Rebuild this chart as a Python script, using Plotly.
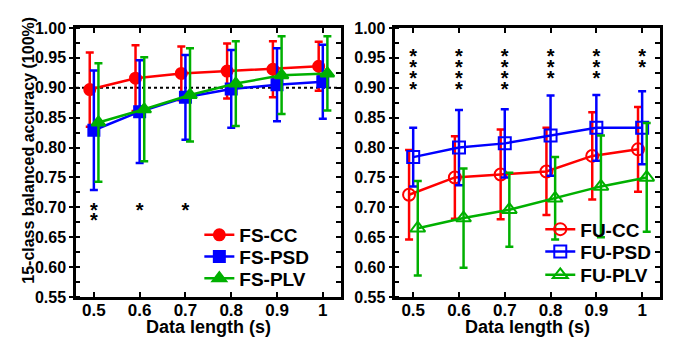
import plotly.graph_objects as go

# ---------------- data ----------------
lengths = [0.5, 0.6, 0.7, 0.8, 0.9, 1.0]
x_tick_labels = ["0.5", "0.6", "0.7", "0.8", "0.9", "1"]
y_tick_vals = [0.55, 0.60, 0.65, 0.70, 0.75, 0.80, 0.85, 0.90, 0.95, 1.00]

fs_cc_mean = [0.897, 0.916, 0.924, 0.928, 0.931, 0.936]
fs_cc_sd = [0.062, 0.055, 0.045, 0.046, 0.047, 0.041]
fs_psd_mean = [0.829, 0.860, 0.884, 0.898, 0.905, 0.910]
fs_psd_sd = [0.100, 0.086, 0.071, 0.065, 0.061, 0.062]
fs_plv_mean = [0.842, 0.864, 0.888, 0.907, 0.921, 0.924]
fs_plv_sd = [0.099, 0.087, 0.078, 0.071, 0.065, 0.062]

fu_cc_mean = [0.721, 0.750, 0.755, 0.760, 0.786, 0.797]
fu_cc_sd = [0.075, 0.069, 0.075, 0.073, 0.073, 0.071]
fu_psd_mean = [0.784, 0.800, 0.807, 0.820, 0.833, 0.833]
fu_psd_sd = [0.049, 0.063, 0.057, 0.067, 0.055, 0.061]
fu_plv_mean = [0.665, 0.682, 0.696, 0.715, 0.735, 0.750]
fu_plv_sd = [0.079, 0.083, 0.062, 0.069, 0.085, 0.091]

fs_stars = [2, 1, 1, 0, 0, 0]
fu_stars = [4, 4, 4, 3, 3, 2]
fs_star_top = 0.693
fu_star_top = 0.949
reference_line = 0.90

x_title = "Data length (s)"
y_title = "15-class balanced accuracy (100%)"

# ---------------- style ----------------
RED = "#FF0000"
BLUE = "#0000FF"
GREEN = "#00B000"
FONT = "Liberation Sans"
OFFSETS = [-0.009, 0.0, 0.010]
STAR_STEP = 0.018

fig = go.Figure()


def add_series(name, means, sds, color, symbol, offset, xa, ya, legend, size):
    fig.add_trace(go.Scatter(
        x=[v + offset for v in lengths], y=means,
        mode="lines+markers", name="<b>%s</b>" % name,
        line=dict(color=color, width=2.5),
        marker=dict(color=color, symbol=symbol, size=size,
                    line=dict(color=color, width=2)),
        error_y=dict(type="data", array=sds, visible=True,
                     color=color, thickness=2.5, width=4),
        xaxis=xa, yaxis=ya, legend=legend,
    ))


add_series("FS-CC", fs_cc_mean, fs_cc_sd, RED, "circle", OFFSETS[0], "x", "y", "legend", 11)
add_series("FS-PSD", fs_psd_mean, fs_psd_sd, BLUE, "square", OFFSETS[1], "x", "y", "legend2", 11)
add_series("FS-PLV", fs_plv_mean, fs_plv_sd, GREEN, "triangle-up", OFFSETS[2], "x", "y", "legend3", 12)

add_series("FU-CC", fu_cc_mean, fu_cc_sd, RED, "circle-open", OFFSETS[0], "x2", "y2", "legend4", 12)
add_series("FU-PSD", fu_psd_mean, fu_psd_sd, BLUE, "square-open", OFFSETS[1], "x2", "y2", "legend5", 12)
add_series("FU-PLV", fu_plv_mean, fu_plv_sd, GREEN, "triangle-up-open", OFFSETS[2], "x2", "y2", "legend6", 13)


def add_stars(counts, top, xa, ya):
    xs, ys = [], []
    for xv, n in zip(lengths, counts):
        for i in range(n):
            xs.append(xv)
            ys.append(top - i * STAR_STEP)
    fig.add_trace(go.Scatter(
        x=xs, y=ys, mode="text", text=["*"] * len(xs),
        textposition="middle center",
        textfont=dict(family=FONT, size=20, color="black", weight="bold"),
        showlegend=False, hoverinfo="skip", xaxis=xa, yaxis=ya,
    ))


add_stars(fs_stars, fs_star_top, "x", "y")
add_stars(fu_stars, fu_star_top, "x2", "y2")

XR = [0.461, 1.039]
YR = [0.55, 1.0]
xtickfont = dict(family=FONT, size=17, color="black", weight="bold")
ytickfont = dict(family=FONT, size=16, color="black", weight="bold")

xbase = dict(range=XR, tickvals=lengths, ticktext=x_tick_labels,
             ticks="inside", ticklen=5, tickwidth=2, tickcolor="black",
             showline=True, linewidth=2.5, linecolor="black", mirror="ticks",
             showgrid=False, zeroline=False, tickfont=xtickfont,
             ticklabelstandoff=-4)
ybase = dict(range=YR, tickvals=y_tick_vals, tickformat=".2f",
             ticks="outside", ticklen=4, tickwidth=2, tickcolor="black",
             minor=dict(dtick=0.025, tick0=0.55, ticks="inside", ticklen=4,
                        tickwidth=2, tickcolor="black", showgrid=False),
             showline=True, linewidth=2.5, linecolor="black", mirror=True,
             showgrid=False, zeroline=False, tickfont=ytickfont)
yright = dict(range=YR, tickvals=y_tick_vals, side="right",
              ticks="inside", ticklen=5, tickwidth=2, tickcolor="black",
              minor=dict(dtick=0.025, tick0=0.55, ticks="inside", ticklen=5,
                         tickwidth=2, tickcolor="black", showgrid=False),
              showticklabels=False, showline=False, showgrid=False,
              zeroline=False)

L_DOM = [0.0, 0.4532]
R_DOM = [0.5468, 1.0]


def leg(x, y):
    return dict(x=x, y=y, xanchor="left", yanchor="middle",
                bgcolor="rgba(0,0,0,0)", borderwidth=0,
                font=dict(family=FONT, size=19, color="black"))


titlefont = dict(family=FONT, size=18, color="black", weight="bold")

fig.update_layout(
    width=666, height=335,
    margin=dict(l=68, r=11, t=20, b=46),
    paper_bgcolor="white", plot_bgcolor="white",
    font=dict(family=FONT, color="black"),
    xaxis=dict(xbase, domain=L_DOM, anchor="y"),
    yaxis=dict(ybase, domain=[0, 1], anchor="x"),
    xaxis2=dict(xbase, domain=R_DOM, anchor="y2"),
    yaxis2=dict(ybase, domain=[0, 1], anchor="x2"),
    yaxis3=dict(yright, overlaying="y", anchor="x"),
    yaxis4=dict(yright, overlaying="y2", anchor="x2"),
    legend=leg(0.2112, 0.2305),
    legend2=leg(0.2112, 0.1498),
    legend3=leg(0.2112, 0.0695),
    legend4=leg(0.795, 0.2517),
    legend5=leg(0.795, 0.1684),
    legend6=leg(0.795, 0.0818),
    shapes=[dict(type="line", xref="x domain", yref="y",
                 x0=0, x1=1, y0=reference_line, y1=reference_line,
                 line=dict(color="black", width=2, dash="dot"), layer="below")],
    annotations=[
        dict(text=x_title, xref="x domain", yref="paper", x=0.5, y=-0.1115,
             xanchor="center", yanchor="middle", showarrow=False, font=titlefont),
        dict(text=x_title, xref="x2 domain", yref="paper", x=0.5, y=-0.1115,
             xanchor="center", yanchor="middle", showarrow=False, font=titlefont),
        dict(text=y_title, xref="paper", yref="paper", x=-0.0809, y=0.5465,
             xanchor="center", yanchor="middle", textangle=-90, showarrow=False,
             font=dict(family=FONT, size=16, color="black", weight="bold")),
    ],
    showlegend=True,
)

# invisible traces so the right-side mirror axes render
fig.add_trace(go.Scatter(x=[None], y=[None], xaxis="x", yaxis="y3", showlegend=False, hoverinfo="skip"))
fig.add_trace(go.Scatter(x=[None], y=[None], xaxis="x2", yaxis="y4", showlegend=False, hoverinfo="skip"))

fig.write_html("out.html")
